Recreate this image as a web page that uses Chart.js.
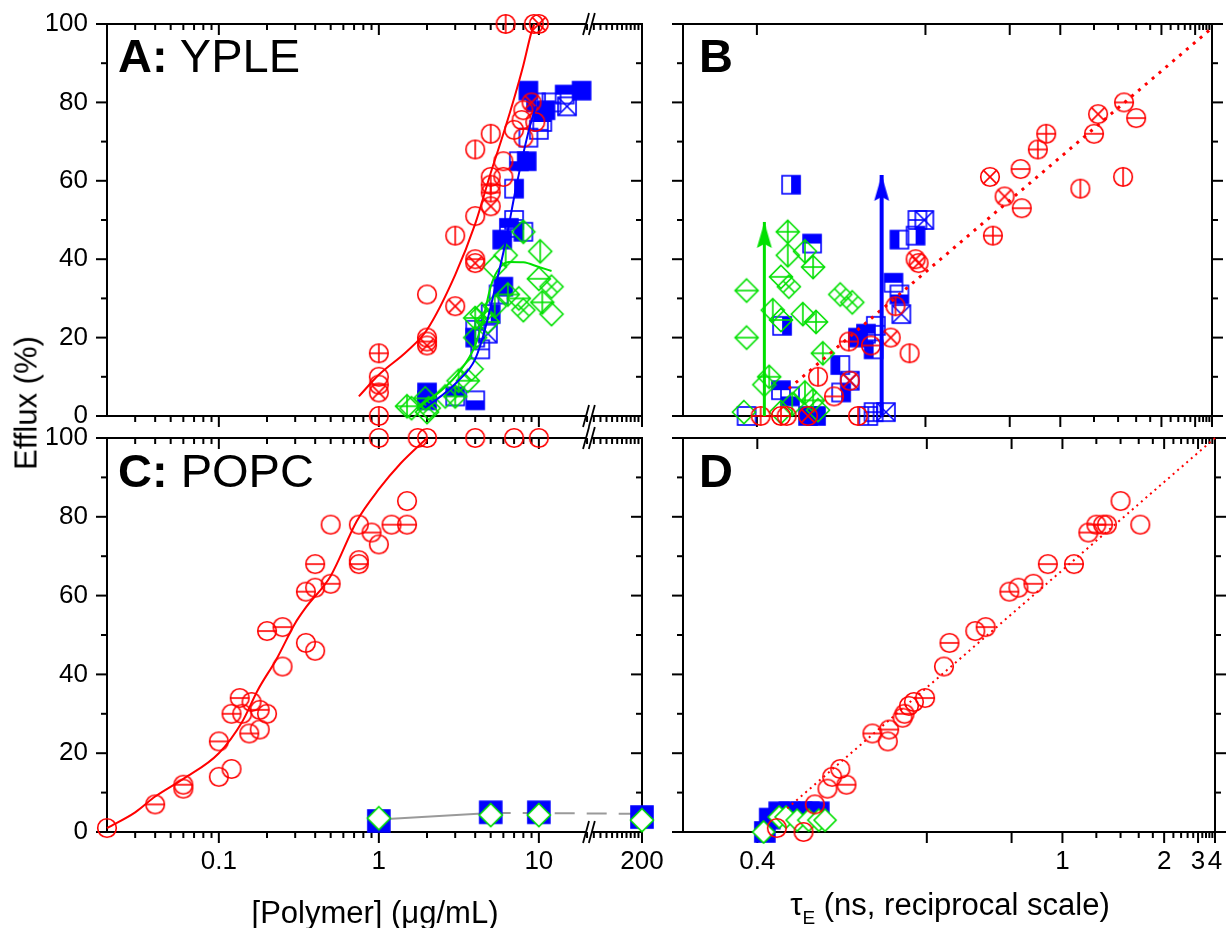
<!DOCTYPE html>
<html>
<head>
<meta charset="utf-8">
<script src="https://cdn.jsdelivr.net/npm/chart.js@4.4.1/dist/chart.umd.min.js"></script>
<style>
  body { margin: 0; background: #fff; }
  #wrap { position: relative; width: 1226px; height: 928px; overflow: hidden; font-family: "Liberation Sans", Arial, sans-serif; color: #000; }
  canvas { position: absolute; left: 0; top: 0; }
  .lbl { position: absolute; white-space: nowrap; line-height: 1; }
  .panel { font-size: 47px; }
  .axt { font-size: 31px; transform: translate(-50%, -50%); }
  .axt sub { font-size: 19px; vertical-align: -0.45em; }
</style>
</head>
<body>
<div id="wrap">
  <canvas id="chartC" width="1226" height="928"></canvas>
  <canvas id="chartD" width="1226" height="928"></canvas>
  <canvas id="chartA" width="1226" height="928"></canvas>
  <canvas id="chartB" width="1226" height="928"></canvas>
  <div class="lbl panel" style="left:118px;top:32px"><b>A:</b> YPLE</div>
  <div class="lbl panel" style="left:699px;top:32px"><b>B</b></div>
  <div class="lbl panel" style="left:118px;top:447px"><b>C:</b> POPC</div>
  <div class="lbl panel" style="left:699px;top:447px"><b>D</b></div>
  <div class="lbl" style="left:26px;top:403px;font-size:31px;transform:translate(-50%,-50%) rotate(-90deg)">Efflux (%)</div>
  <div class="lbl axt" style="left:375px;top:912px">[Polymer] (μg/mL)</div>
  <div class="lbl axt" style="left:950px;top:908px">τ<sub>E</sub> (ns, reciprocal scale)</div>
</div>
<script>
// ---- panel A: YPLE, efflux vs polymer concentration ----
const aRedX = [1, 1, 1, 1, 1, 2, 2, 2, 2, 3, 3, 4, 4, 4, 4, 5, 5, 5, 5, 5, 6, 6, 7, 7.8, 8, 8, 9, 9.5, 6.2, 9.3, 10];
const aRedY = [16, 10, 8, 6, 0, 31, 20, 18, 19, 46, 28, 51, 68, 40, 39, 72, 61, 59, 57, 53.5, 65, 61, 73, 75.5, 71, 78, 80, 75, 100, 100, 100];
const aRedSym = ['+', '', '-', 'x', '|', '', '', 'x', '-', '|', 'x', '', '|', '-', 'x', '|', '', '+', '+', 'x', '', '', '', '', '', '', 'x', '', '|', '', 'x'];
const aBlueX = [2, 2, 3, 4, 4, 4, 4.3, 4.8, 5, 5.6, 6, 5.9, 6.5, 7, 8, 7, 7.5, 8.4, 8.6, 10, 8.6, 9.6, 10.5, 11, 12, 14.5, 15, 18.5];
const aBlueY = [6, 4, 5, 4, 22, 20, 17, 21, 26, 31, 33, 45, 48, 50, 47, 58, 65, 65, 71, 73, 83, 80, 75, 78, 80, 82, 79, 83];
const aBlueSym = ['F', 'B', 'T', 'B', '+', 'L', '-', 'x', 'R', '|', 'F', 'F', 'T', '-', 'L', 'R', 'B', 'F', '', '-', 'F', 'L', 'T', 'F', '-', 'T', 'x', 'F'];
const aGreenX = [1.5, 1.6, 1.95, 2.05, 2, 2.6, 3, 3.15, 3.6, 3.8, 4, 4, 4.4, 4.8, 5.3, 5.3, 6.2, 6.4, 7.5, 8, 8, 10.2, 10, 10.5, 12, 12];
const aGreenY = [2.5, 2, 4.5, 2, 1, 5, 5, 9, 9, 12, 20, 25, 26, 24, 28, 38, 41, 31, 30, 47, 27, 42, 35, 29, 33, 26];
const aGreenSym = ['+', '', '-', 'x', '', '', '+', '|', '-', '', '|', '+', 'x', '-', '|', '', '|', '+', '-', '|', 'x', '|', '-', '+', 'x', ''];
// fitted curves, panel A
const aRedFitX = [0.75, 1, 1.5, 2, 3, 4, 5, 6, 7, 8, 9, 9.4];
const aRedFitY = [5, 10.5, 16.5, 22, 36, 49, 62, 72, 81, 89.5, 98, 100];
const aBlueFitX = [1.95, 2.47, 3.07, 4, 4.6, 5.35, 6.17, 7.1, 8, 8.8, 9.6];
const aBlueFitY = [2.2, 5.2, 8.6, 14.5, 22, 33, 44, 57, 67, 74, 79];
const aGreenFitX = [1.77, 2.47, 3.15, 4, 4.5, 5, 5.5, 6.5, 8, 10, 12];
const aGreenFitY = [2.5, 6.6, 11, 18, 25, 33, 37, 39.3, 39.2, 38, 37];

// ---- panel B: YPLE, efflux vs tau_E ----
const bRedX = [1.46, 1.6, 1.23, 1.2, 1.45, 1.11, 0.935, 0.9, 0.836, 0.742, 0.784, 0.84, 0.75, 0.583, 0.588, 0.551, 0.573, 0.544, 0.5165, 0.489, 0.455, 0.472, 0.49, 0.5, 0.403, 0.42, 0.425, 0.445];
const bRedY = [80, 76, 77, 72, 61, 58, 72, 68, 63, 61, 56, 53, 46, 40, 39, 28, 16, 20, 18, 19, 10, 5, 9, 0, 0, 0, 0, 0];
const bRedSym = ['-', '-', 'x', '-', '|', '|', '+', '+', '-', 'x', 'x', '-', '+', 'x', 'x', '|', '|', 'x', '-', '+', '|', '-', 'x', '|', '+', '+', '', 'x'];
const bBlueX = [0.429, 0.449, 0.421, 0.42, 0.428, 0.392, 0.445, 0.453, 0.479, 0.48, 0.49, 0.5, 0.51, 0.52, 0.523, 0.513, 0.52, 0.537, 0.548, 0.557, 0.56, 0.557, 0.583, 0.586, 0.598];
const bBlueY = [59, 44, 23, 6.6, 5, 0, 0, 0, 13, 6, 9, 20, 21, 17, 23, 0, 1, 1, 34, 31, 26, 45, 46, 50, 50];
const bBlueSym = ['R', 'T', 'R', 'T', 'B', '', 'F', 'F', 'L', 'R', 'x', 'F', 'T', 'L', '-', '|', '+', 'x', 'T', 'B', 'x', 'L', 'R', '-', 'x'];
const bGreenX = [0.426, 0.426, 0.42, 0.427, 0.392, 0.392, 0.413, 0.42, 0.44, 0.453, 0.442, 0.45, 0.479, 0.493, 0.46, 0.41, 0.406, 0.39, 0.442, 0.45, 0.455, 0.43, 0.42];
const bGreenY = [47, 41, 35.5, 33, 32, 20, 27, 24.5, 26, 24, 42, 38, 31, 29, 16, 10, 8, 1, 6, 4, 1.5, 3, 1];
const bGreenSym = ['+', '|', '-', 'x', '-', '-', '|', '-', '|', '+', '|', '+', 'x', 'x', '+', '+', '|', '', '|', '+', '', '|', ''];
const bTrendX = [0.427, 4];
const bTrendY = [7, 99];
const bGreenArrowX = [0.406, 0.406];
const bGreenArrowY = [0, 49.5];
const bBlueArrowX = [0.531, 0.531];
const bBlueArrowY = [0, 61.5];

// ---- panel C: POPC, efflux vs polymer concentration ----
const cRedX = [0.02, 0.04, 0.06, 0.06, 0.1, 0.1, 0.12, 0.12, 0.135, 0.14, 0.155, 0.16, 0.18, 0.18, 0.2, 0.2, 0.25, 0.25, 0.35, 0.35, 0.4, 0.4, 0.4, 0.5, 0.5, 0.75, 0.75, 0.75, 0.9, 1, 1.2, 1.5, 1.5, 1, 1.75, 2, 4, 7, 10];
const cRedY = [1, 7, 12, 11, 23, 14, 16, 30, 34, 30, 25, 33, 26, 31, 30, 51, 52, 42, 48, 61, 46, 68, 62, 63, 78, 78, 69, 68, 76, 73, 78, 78, 84, 100, 100, 100, 100, 100, 100];
const cRedSym = ['', '-', '-', '', '-', '', '', '-', '-', '', '-', '', '', '-', '', '-', '-', '', '', '-', '', '-', '', '-', '', '', '', '-', '-', '', '-', '-', '', '', '', '', '', '', ''];
const cRedFitX = [0.02, 0.03, 0.04, 0.06, 0.1, 0.14, 0.175, 0.23, 0.3, 0.35, 0.5, 0.73, 1, 1.37, 2];
const cRedFitY = [1, 5, 9, 13.5, 20, 28, 36, 44, 53, 57, 65, 79, 87, 93.6, 100];
const cBlueX = [1, 5, 10, 200];
const cBlueY = [2.8, 5, 5, 3.8];
const cGreenX = [1, 5, 10, 200];
const cGreenY = [3.5, 4.3, 4.3, 3];
const cGrayX = [1, 5, 10, 200];
const cGrayY = [3.2, 4.8, 4.8, 4.6];

// ---- panel D: POPC, efflux vs tau_E ----
const dRedX = [1.4, 1.62, 1.146, 1.2, 1.25, 1.28, 1.06, 0.933, 0.875, 0.822, 0.793, 0.726, 0.70, 0.643, 0.632, 0.597, 0.578, 0.57, 0.563, 0.56, 0.54, 0.538, 0.517, 0.478, 0.469, 0.485, 0.464, 0.451, 0.44, 0.416];
const dRedY = [84, 78, 76, 78, 78, 78, 68, 68, 63, 62, 61, 52, 51, 48, 42, 34, 33, 32, 30, 29, 26, 23, 25, 16, 14, 12, 11, 7, 0, 1];
const dRedSym = ['', '', '-', '-', '-', '', '-', '-', '-', '', '-', '-', '', '-', '', '-', '', '', '-', '', '-', '', '-', '', '', '-', '', '', '', ''];
const dBlueX = [0.406, 0.41, 0.418, 0.427, 0.438, 0.445, 0.455];
const dBlueY = [0, 3.4, 5, 5, 5, 5, 5];
const dGreenX = [0.405, 0.418, 0.424, 0.434, 0.445, 0.455, 0.4615];
const dGreenY = [0, 3.8, 3.8, 3, 3, 3, 3];
const dTrendX = [0.425, 4];
const dTrendY = [6, 100];

// axis tick values
const polyLabels = [0.1, 1, 10, 200];
const tauLabels = [0.4, 1, 2, 3, 4];
const yLabelStep = 20;

const RED = '#ff0000', BLUE = '#0000ff', GREEN = '#00e000';
const FONT = '"Liberation Sans", Arial, sans-serif';
const W = 1226, H = 928;

// broken log axis: 0.02..20, gap, 100..200
const polyAxis = { lo: [0.02, 20], hi: [100, 200], gap: 0.0425 };

class BrokenLogScale extends Chart.Scale {
  static id = 'brokenlog';
  static defaults = {};
  parse(raw) { return +raw; }
  determineDataLimits() { this.min = polyAxis.lo[0]; this.max = polyAxis.hi[1]; }
  buildTicks() { return []; }
  getLabelForValue(v) { return String(v); }
  _dec(v) {
    const L = Math.log10, p = polyAxis;
    const w1 = L(p.lo[1] / p.lo[0]), w2 = L(p.hi[1] / p.hi[0]);
    const total = w1 + p.gap + w2;
    if (v <= p.lo[1]) return L(v / p.lo[0]) / total;
    if (v >= p.hi[0]) return (w1 + p.gap + L(v / p.hi[0])) / total;
    return (w1 + p.gap * L(v / p.lo[1]) / L(p.hi[0] / p.lo[1])) / total;
  }
  getPixelForValue(v) { return this.getPixelForDecimal(this._dec(v)); }
  getValueForPixel(px) { return this.getDecimalForPixel(px); }
}

// reciprocal axis: position linear in 1/value, growing values to the right
class ReciprocalScale extends Chart.Scale {
  static id = 'reciprocal';
  static defaults = {};
  parse(raw) { return +raw; }
  determineDataLimits() { this.min = this.options.min; this.max = this.options.max; }
  buildTicks() { return []; }
  getLabelForValue(v) { return String(v); }
  getPixelForValue(v) {
    const a = 1 / this.min, b = 1 / this.max;
    return this.getPixelForDecimal((a - 1 / v) / (a - b));
  }
  getValueForPixel(px) {
    const a = 1 / this.min, b = 1 / this.max;
    return 1 / (a - this.getDecimalForPixel(px) * (a - b));
  }
}
Chart.register(BrokenLogScale, ReciprocalScale);

Chart.defaults.font.family = FONT;
Chart.defaults.color = '#000';
Chart.defaults.animation = false;
Chart.defaults.plugins.legend.display = false;
Chart.defaults.plugins.tooltip.enabled = false;

// symbol images (Origin style marks with inner lines / half fills)
const symCache = {};
function symbol(shape, code, color, size) {
  const key = [shape, code, color, size].join('/');
  if (symCache[key]) return symCache[key];
  const c = document.createElement('canvas');
  c.width = c.height = 30;
  const g = c.getContext('2d');
  const m = 15, r = size;
  g.strokeStyle = color;
  g.fillStyle = color;
  g.lineWidth = 1.6;
  const ln = (x1, y1, x2, y2) => { g.beginPath(); g.moveTo(m + x1, m + y1); g.lineTo(m + x2, m + y2); g.stroke(); };
  const has = ch => code.indexOf(ch) >= 0;
  if (shape === 'circle') {
    g.beginPath(); g.arc(m, m, r, 0, Math.PI * 2); g.stroke();
    if (has('|') || has('+')) ln(0, -r, 0, r);
    if (has('-') || has('+')) ln(-r, 0, r, 0);
    if (has('x')) { const k = r * Math.SQRT1_2; ln(-k, -k, k, k); ln(-k, k, k, -k); }
  } else if (shape === 'square') {
    if (has('F')) g.fillRect(m - r, m - r, 2 * r, 2 * r);
    if (has('L')) g.fillRect(m - r, m - r, r, 2 * r);
    if (has('R')) g.fillRect(m, m - r, r, 2 * r);
    if (has('T')) g.fillRect(m - r, m - r, 2 * r, r);
    if (has('B')) g.fillRect(m - r, m, 2 * r, r);
    g.strokeRect(m - r, m - r, 2 * r, 2 * r);
    if (has('|') || has('+')) ln(0, -r, 0, r);
    if (has('-') || has('+')) ln(-r, 0, r, 0);
    if (has('x')) { ln(-r, -r, r, r); ln(-r, r, r, -r); }
  } else {
    g.beginPath();
    g.moveTo(m, m - r); g.lineTo(m + r, m); g.lineTo(m, m + r); g.lineTo(m - r, m); g.closePath();
    if (has('W')) { g.fillStyle = '#fff'; g.fill(); }
    g.stroke();
    if (has('|') || has('+')) ln(0, -r, 0, r);
    if (has('-') || has('+')) ln(-r, 0, r, 0);
    if (has('x')) { const h = r / 2; ln(-h, -h, h, h); ln(h, -h, -h, h); }
  }
  symCache[key] = c;
  return c;
}

function arrowHead(color) {
  const c = document.createElement('canvas');
  c.width = 18; c.height = 56;
  const g = c.getContext('2d');
  g.fillStyle = color;
  g.beginPath();
  g.moveTo(9, 28); g.lineTo(16.5, 54); g.lineTo(9, 50); g.lineTo(1.5, 54); g.closePath();
  g.fill();
  return c;
}

const pts = (xs, ys) => xs.map((x, i) => ({ x, y: ys[i] }));

function marks(xs, ys, shape, color, size, syms) {
  return {
    data: pts(xs, ys), showLine: false, clip: false,
    pointStyle: syms.map(s => symbol(shape, s, color, size)),
    pointRadius: 10, pointHoverRadius: 10
  };
}

function curve(xs, ys, color, width, dash) {
  return {
    data: pts(xs, ys), showLine: true, clip: false,
    borderColor: color, borderWidth: width, borderDash: dash || [],
    cubicInterpolationMode: 'monotone', pointRadius: 0, fill: false
  };
}

function arrow(xs, ys, color, width) {
  return {
    data: pts(xs, ys), showLine: true, clip: false,
    borderColor: color, borderWidth: width,
    pointStyle: arrowHead(color), pointRadius: [0, 10], pointHoverRadius: [0, 10]
  };
}

// tick marks for the frame (major, minor)
const polyTicks = [];
[0.01, 0.1, 1].forEach(d => { for (let k = 2; k <= 10; k++) if (k * d > 0.02) polyTicks.push([k * d, k === 10]); });
polyTicks.push([20, false]);
for (let v = 100; v <= 200; v += 10) polyTicks.push([v, v === 200]);
const tauTicks = [[0.4, true], [0.6, true], [0.8, true], [1, true], [2, true], [3, true], [4, true]];
[1, 2, 3].forEach(b => { for (let k = 2; k <= 8; k += 2) tauTicks.push([b + k / 10, false]); });
const yTicks = [];
for (let v = 0; v <= 100; v += 10) yTicks.push([v, v % 20 === 0]);

function framePlugin(cfg) {
  return {
    id: 'frame',
    beforeDatasetsDraw(chart) {
      const { ctx, chartArea: a, scales: { x, y } } = chart;
      const seg = (x1, y1, x2, y2) => { ctx.beginPath(); ctx.moveTo(x1, y1); ctx.lineTo(x2, y2); ctx.stroke(); };
      ctx.save();
      ctx.strokeStyle = '#000';
      ctx.lineWidth = 2;
      seg(a.left, a.top - 1, a.left, a.bottom + 1);
      seg(a.right, a.top - 1, a.right, a.bottom + 1);
      [a.top, a.bottom].forEach(yy => {
        if (cfg.brk) {
          const b1 = x.getPixelForValue(polyAxis.lo[1]) - 1;
          const b2 = x.getPixelForValue(polyAxis.hi[0]) - 2;
          seg(a.left, yy, b1, yy);
          seg(b2, yy, a.right, yy);
          ctx.lineWidth = 1.8;
          seg(b1 - 3, yy + 11, b1 + 3, yy - 11);
          seg(b2 - 3, yy + 11, b2 + 3, yy - 11);
          ctx.lineWidth = 2;
        } else {
          seg(a.left, yy, a.right, yy);
        }
      });
      cfg.xTicks.forEach(([v, major]) => {
        const px = x.getPixelForValue(v), len = major ? 11 : 6;
        seg(px, a.bottom, px, a.bottom + len);
        seg(px, a.top, px, a.top + len);
      });
      yTicks.forEach(([v, major]) => {
        const py = y.getPixelForValue(v), len = major ? 11 : 6;
        seg(a.left - len, py, a.left, py);
        if (cfg.rightIn) seg(a.right - len, py, a.right, py);
        else seg(a.right, py, a.right + len, py);
      });
      ctx.restore();
    }
  };
}

function makeChart(id, o) {
  const yW = o.yLabels ? 60 : 0, xH = o.xLabels ? 60 : 0;
  const tickFont = { size: 26, family: FONT };
  return new Chart(document.getElementById(id), {
    type: 'scatter',
    data: { datasets: o.datasets },
    options: {
      responsive: false,
      events: [],
      layout: { padding: { left: o.area.left - yW, top: o.area.top, right: W - o.area.right, bottom: H - o.area.bottom - xH } },
      scales: {
        x: {
          type: o.xType, position: 'bottom', axis: 'x', min: o.xMin, max: o.xMax,
          grid: { display: false, drawTicks: false }, border: { display: false },
          ticks: { display: !!o.xLabels, autoSkip: false, maxRotation: 0, padding: 14, font: tickFont, callback: v => String(v) },
          afterBuildTicks: s => { s.ticks = o.xTickVals.map(v => ({ value: v })); },
          afterFit: s => { s.height = xH; s.paddingLeft = 0; s.paddingRight = 0; }
        },
        y: {
          type: 'linear', position: 'left', min: 0, max: 100,
          grid: { display: false, drawTicks: false }, border: { display: false },
          ticks: { display: !!o.yLabels, stepSize: yLabelStep, padding: 19, font: tickFont },
          afterFit: s => { s.width = yW; s.paddingTop = 0; s.paddingBottom = 0; }
        }
      }
    },
    plugins: [framePlugin(o.frame)]
  });
}

// panel A
makeChart('chartA', {
  area: { left: 107, top: 24, right: 642, bottom: 416 },
  xType: 'brokenlog', xTickVals: polyLabels, xLabels: false, yLabels: true,
  frame: { brk: true, rightIn: true, xTicks: polyTicks },
  datasets: [
    curve(aRedFitX, aRedFitY, RED, 2),
    curve(aBlueFitX, aBlueFitY, BLUE, 2),
    curve(aGreenFitX, aGreenFitY, GREEN, 2),
    marks(aRedX, aRedY, 'circle', RED, 9.3, aRedSym),
    marks(aGreenX, aGreenY, 'diamond', GREEN, 11.5, aGreenSym),
    marks(aBlueX, aBlueY, 'square', BLUE, 9, aBlueSym)
  ]
});

// panel B
makeChart('chartB', {
  area: { left: 683, top: 24, right: 1217, bottom: 416 },
  xType: 'reciprocal', xMin: 0.349, xMax: 4, xTickVals: tauLabels, xLabels: false, yLabels: false,
  frame: { brk: false, rightIn: false, xTicks: tauTicks },
  datasets: [
    arrow(bBlueArrowX, bBlueArrowY, BLUE, 4),
    arrow(bGreenArrowX, bGreenArrowY, GREEN, 3),
    curve(bTrendX, bTrendY, RED, 3, [3, 6]),
    marks(bRedX, bRedY, 'circle', RED, 9.3, bRedSym),
    marks(bGreenX, bGreenY, 'diamond', GREEN, 11.5, bGreenSym),
    marks(bBlueX, bBlueY, 'square', BLUE, 9, bBlueSym)
  ]
});

// panel C
const cGray = curve(cGrayX, cGrayY, '#9a9a9a', 2);
cGray.cubicInterpolationMode = 'default';
cGray.segment = { borderDash: c => c.p0DataIndex === 0 ? [] : [20, 12] };
makeChart('chartC', {
  area: { left: 107, top: 438, right: 642, bottom: 832 },
  xType: 'brokenlog', xTickVals: polyLabels, xLabels: true, yLabels: true,
  frame: { brk: true, rightIn: true, xTicks: polyTicks },
  datasets: [
    curve(cRedFitX, cRedFitY, RED, 2),
    marks(cRedX, cRedY, 'circle', RED, 9.3, cRedSym),
    marks(cGreenX, cGreenY, 'diamond', GREEN, 11.5, cGreenX.map(() => 'W')),
    marks(cBlueX, cBlueY, 'square', BLUE, 11, cBlueX.map(() => 'F')),
    cGray
  ]
});

// panel D
makeChart('chartD', {
  area: { left: 683, top: 438, right: 1217, bottom: 832 },
  xType: 'reciprocal', xMin: 0.349, xMax: 4, xTickVals: tauLabels, xLabels: true, yLabels: false,
  frame: { brk: false, rightIn: false, xTicks: tauTicks },
  datasets: [
    curve(dTrendX, dTrendY, RED, 2, [2, 4]),
    marks(dRedX, dRedY, 'circle', RED, 9.3, dRedSym),
    marks(dGreenX, dGreenY, 'diamond', GREEN, 11, dGreenX.map(() => 'W')),
    marks(dBlueX, dBlueY, 'square', BLUE, 10, dBlueX.map(() => 'F'))
  ]
});
</script>
</body>
</html>
